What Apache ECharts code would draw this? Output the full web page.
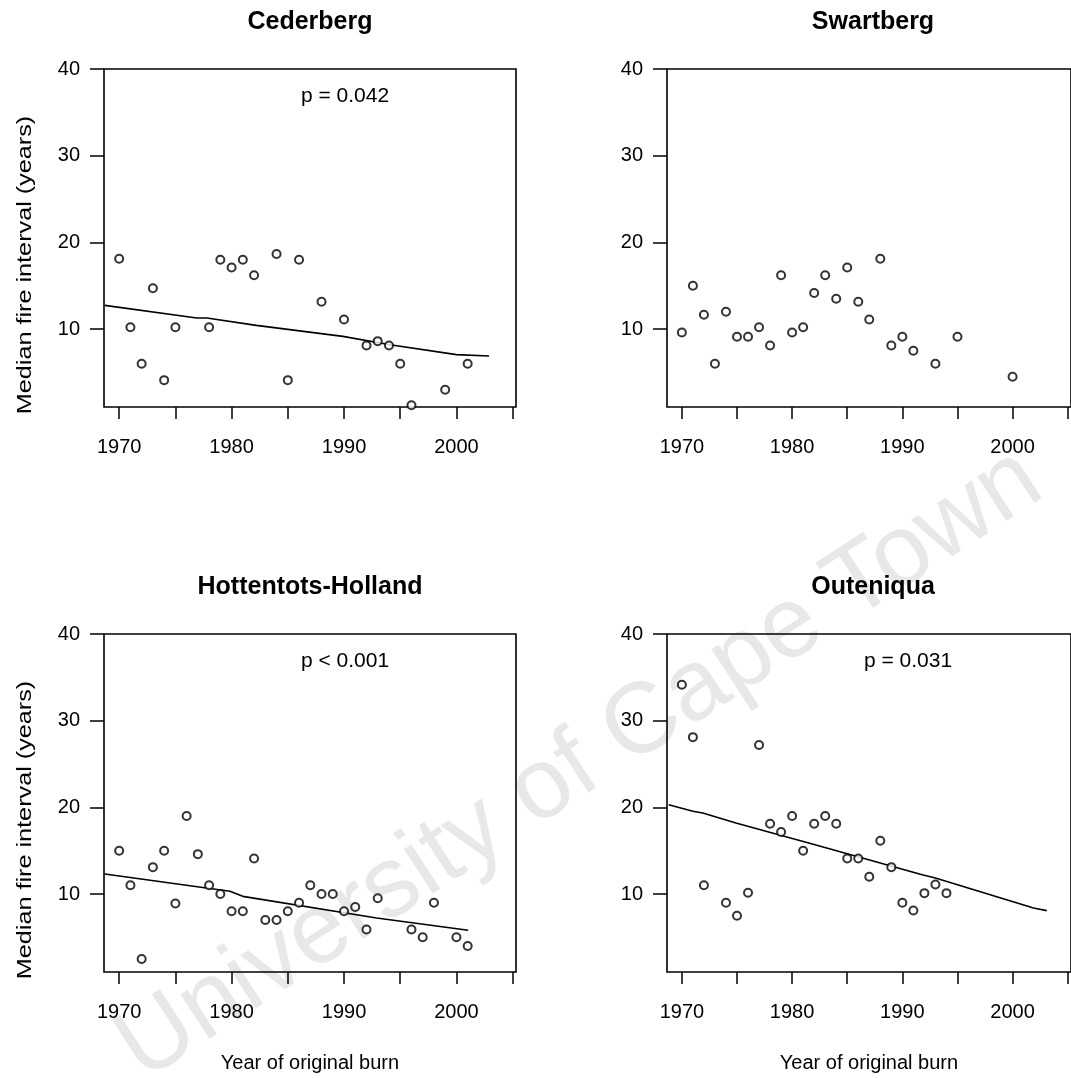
<!DOCTYPE html>
<html>
<head>
<meta charset="utf-8">
<script src="https://cdn.jsdelivr.net/npm/echarts@6/dist/echarts.min.js"></script>
<style>
html,body{margin:0;padding:0;background:#fff;}
#chart{width:1071px;height:1078px;}
</style>
</head>
<body>
<div id="chart"></div>
<script>
// ---------- data ----------
const panelTitles = ['Cederberg', 'Swartberg', 'Hottentots-Holland', 'Outeniqua'];
const pValueTexts = ['p = 0.042', '', 'p < 0.001', 'p = 0.031'];
const xTickValues = [1970, 1975, 1980, 1985, 1990, 1995, 2000, 2005];
const xLabelValues = [1970, 1980, 1990, 2000];
const yTickValues = [10, 20, 30, 40];
const yAxisName = 'Median fire interval (years)';
const xAxisName = 'Year of original burn';

const cederbergYears = [1970,1971,1972,1973,1974,1975,1978,1979,1980,1981,1982,1984,1985,1986,1988,1990,1992,1993,1994,1995,1996,1999,2001];
const cederbergValues = [18.1,10.2,6.0,14.7,4.1,10.2,10.2,18.0,17.1,18.0,16.2,18.65,4.1,18.0,13.15,11.1,8.1,8.6,8.1,6.0,1.2,3.0,6.0];
const cederbergTrendYears = [1968.72,1976.9,1977.8,1982.2,1989.9,1994.1,2000.0,2002.9];
const cederbergTrendValues = [12.73,11.27,11.27,10.42,9.15,8.19,7.04,6.88];

const swartbergYears = [1970,1971,1972,1973,1974,1975,1976,1977,1978,1979,1980,1981,1982,1983,1984,1985,1986,1987,1988,1989,1990,1991,1993,1995,2000];
const swartbergValues = [9.6,15.0,11.65,6.0,12.0,9.1,9.1,10.2,8.1,16.2,9.6,10.2,14.15,16.2,13.5,17.1,13.15,11.1,18.1,8.1,9.1,7.5,6.0,9.1,4.5];

const hottentotsYears = [1970,1971,1972,1973,1974,1975,1976,1977,1978,1979,1980,1981,1982,1983,1984,1985,1986,1987,1988,1989,1990,1991,1992,1993,1996,1997,1998,2000,2001];
const hottentotsValues = [15.0,11.0,2.5,13.1,15.0,8.9,19.0,14.6,11.0,10.0,8.0,8.0,14.1,7.0,7.0,8.0,9.0,11.0,10.0,10.0,8.0,8.5,5.9,9.5,5.9,5.0,9.0,5.0,4.0];
const hottentotsTrendYears = [1968.72,1979.85,1981.0,1992.9,2001.05];
const hottentotsTrendValues = [12.31,10.31,9.73,7.23,5.81];

const outeniquaYears = [1970,1971,1972,1974,1975,1976,1977,1978,1979,1980,1981,1982,1983,1984,1985,1986,1987,1988,1989,1990,1991,1992,1993,1994];
const outeniquaValues = [34.15,28.1,11.0,9.0,7.5,10.15,27.2,18.1,17.15,19.0,15.0,18.1,19.0,18.1,14.1,14.1,12.0,16.15,13.1,9.0,8.1,10.1,11.1,10.1];
const outeniquaTrendYears = [1968.8,1971.0,1971.9,1974.9,1982.0,1991.8,1993.0,2001.9,2003.1];
const outeniquaTrendValues = [20.31,19.54,19.35,18.2,15.7,12.23,11.85,8.38,8.08];

const watermarkText = 'University of Cape Town';

// ---------- layout ----------
const FONT = '"Liberation Sans", Arial, Helvetica, sans-serif';
const grids = [
  {left: 104, top: 69, width: 412, height: 338},
  {left: 667, top: 69, width: 412, height: 338},
  {left: 104, top: 634, width: 412, height: 338},
  {left: 667, top: 634, width: 412, height: 338}
];
const zip = (xs, ys) => xs.map((x, i) => [x, ys[i]]);

const pointSets = [
  zip(cederbergYears, cederbergValues),
  zip(swartbergYears, swartbergValues),
  zip(hottentotsYears, hottentotsValues),
  zip(outeniquaYears, outeniquaValues)
];
const trendSets = [
  zip(cederbergTrendYears, cederbergTrendValues),
  null,
  zip(hottentotsTrendYears, hottentotsTrendValues),
  zip(outeniquaTrendYears, outeniquaTrendValues)
];

const xAxes = grids.map((g, i) => ({
  type: 'value', gridIndex: i, min: 1968.65, max: 2005.3,
  axisLine: {show: false},
  splitLine: {show: false},
  axisTick: {show: true, length: 12, customValues: xTickValues, lineStyle: {color: '#000', width: 1.5}},
  axisLabel: {show: true, customValues: xLabelValues, margin: 30, fontSize: 20, color: '#000', fontFamily: FONT,
    formatter: v => String(v)},
  name: i >= 2 ? xAxisName : '',
  nameLocation: 'middle', nameGap: 81,
  nameTextStyle: {fontSize: 20, color: '#000', fontFamily: FONT}
}));
const yAxes = grids.map((g, i) => ({
  type: 'value', gridIndex: i, min: 1, max: 40,
  axisLine: {show: false},
  splitLine: {show: false},
  axisTick: {show: true, length: 14, customValues: yTickValues, lineStyle: {color: '#000', width: 1.5}},
  axisLabel: {show: true, customValues: yTickValues, margin: 24, fontSize: 20, color: '#000', fontFamily: FONT,
    formatter: v => String(v)}
}));

const series = [];
pointSets.forEach((pts, i) => {
  series.push({
    type: 'scatter', xAxisIndex: i, yAxisIndex: i, data: pts,
    symbol: 'emptyCircle', symbolSize: 8,
    itemStyle: {color: '#000', borderColor: '#000', borderWidth: 1.8},
    z: 4
  });
  if (trendSets[i]) {
    series.push({
      type: 'line', xAxisIndex: i, yAxisIndex: i, data: trendSets[i],
      showSymbol: false, symbol: 'none', smooth: false,
      lineStyle: {color: '#000', width: 1.6}, z: 3
    });
  }
});

const graphics = [];
// watermark
graphics.push({
  type: 'text', x: 580, y: 765, rotation: 33 * Math.PI / 180, z: -10, silent: true,
  style: {text: watermarkText, fontSize: 100, fontFamily: FONT, fill: '#e8e8e8', align: 'center', verticalAlign: 'middle'}
});
grids.forEach((g, i) => {
  graphics.push({
    type: 'text', x: g.left + 206, y: g.top - 47, z: 10,
    style: {text: panelTitles[i], fontSize: 25, fontWeight: 'bold', fontFamily: FONT, fill: '#000', align: 'center', verticalAlign: 'middle'}
  });
  if (pValueTexts[i]) {
    graphics.push({
      type: 'text', x: g.left + 241, y: g.top + 27, z: 10,
      style: {text: pValueTexts[i], fontSize: 21, fontFamily: FONT, fill: '#000', align: 'center', verticalAlign: 'middle'}
    });
  }
  if (i % 2 === 0) {
    graphics.push({
      type: 'text', x: 25, y: g.top + 196, rotation: Math.PI / 2, scaleX: 1.2, z: 10,
      style: {text: yAxisName, fontSize: 21, fontFamily: FONT, fill: '#000', align: 'center', verticalAlign: 'middle'}
    });
  }
});

const option = {
  backgroundColor: '#fff',
  animation: false,
  grid: grids.map(g => Object.assign({show: true, borderColor: '#000', borderWidth: 1.6, backgroundColor: 'transparent', containLabel: false}, g)),
  xAxis: xAxes,
  yAxis: yAxes,
  series: series,
  graphic: {elements: graphics}
};

const chart = echarts.init(document.getElementById('chart'), null, {renderer: 'canvas'});
chart.setOption(option);
</script>
</body>
</html>
